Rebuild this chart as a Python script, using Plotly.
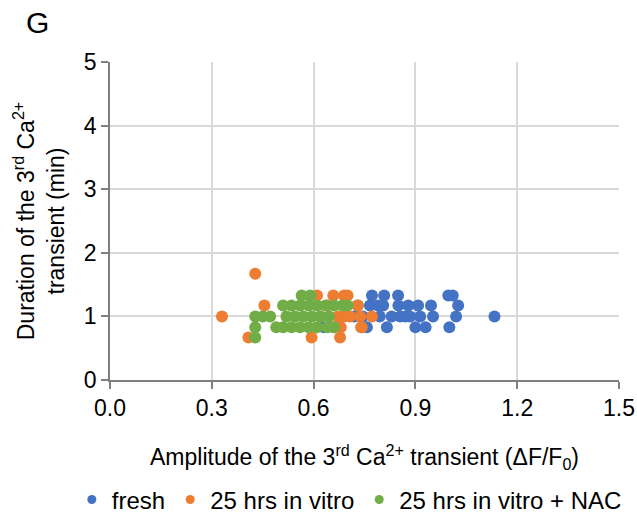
import plotly.graph_objects as go

# Amplitude (dF/F0) and duration (min) of the 3rd Ca2+ transient, per cell
fresh_amp = [0.772, 0.808, 0.849, 0.997, 1.01,
             0.73, 0.766, 0.79, 0.805, 0.85, 0.879, 0.908, 0.946, 1.026,
             0.72, 0.745, 0.795, 0.83, 0.855, 0.87, 0.884, 0.914, 0.952, 1.02, 1.133,
             0.63, 0.757, 0.816, 0.9, 0.93, 1.0]
fresh_dur = [1.33, 1.33, 1.33, 1.33, 1.33,
             1.17, 1.17, 1.17, 1.17, 1.17, 1.17, 1.17, 1.17, 1.17,
             1.0, 1.0, 1.0, 1.0, 1.0, 1.0, 1.0, 1.0, 1.0, 1.0, 1.0,
             0.83, 0.83, 0.83, 0.83, 0.83, 0.83]

vitro_amp = [0.428,
             0.61, 0.658, 0.69, 0.70,
             0.455, 0.64, 0.73,
             0.33, 0.62, 0.672, 0.69, 0.707, 0.737, 0.772,
             0.658, 0.68, 0.74, 0.742,
             0.408, 0.594, 0.678]
vitro_dur = [1.67,
             1.33, 1.33, 1.33, 1.33,
             1.17, 1.17, 1.17,
             1.0, 1.0, 1.0, 1.0, 1.0, 1.0, 1.0,
             0.83, 0.83, 0.83, 0.83,
             0.67, 0.67, 0.67]

nac_amp = [0.565, 0.59,
           0.51, 0.535, 0.56, 0.585, 0.61, 0.635, 0.66, 0.685, 0.70,
           0.428, 0.45, 0.472, 0.52, 0.545, 0.57, 0.595, 0.62, 0.645,
           0.428, 0.49, 0.51, 0.535, 0.56, 0.585, 0.61, 0.64, 0.66,
           0.428]
nac_dur = [1.33, 1.33,
           1.17, 1.17, 1.17, 1.17, 1.17, 1.17, 1.17, 1.17, 1.17,
           1.0, 1.0, 1.0, 1.0, 1.0, 1.0, 1.0, 1.0, 1.0,
           0.83, 0.83, 0.83, 0.83, 0.83, 0.83, 0.83, 0.83, 0.83,
           0.67]

series = [
    ("fresh", fresh_amp, fresh_dur, "#4472C4"),
    ("25 hrs in vitro", vitro_amp, vitro_dur, "#ED7D31"),
    ("25 hrs in vitro + NAC", nac_amp, nac_dur, "#70AD47"),
]

x_ticks = [0.0, 0.3, 0.6, 0.9, 1.2, 1.5]
y_ticks = [0, 1, 2, 3, 4, 5]

FONT = "Liberation Sans, Arial, sans-serif"
FS = 23

fig = go.Figure()
for name, xs, ys, color in series:
    fig.add_trace(go.Scatter(
        x=xs, y=ys, mode="markers", name=name, showlegend=False,
        marker=dict(size=12, color=color, line=dict(width=0)),
    ))
# small legend symbols
for name, xs, ys, color in series:
    fig.add_trace(go.Scatter(
        x=[None], y=[None], mode="markers", name=name,
        marker=dict(size=9, color=color),
    ))

axis_common = dict(
    showgrid=True, gridcolor="#d9d9d9", gridwidth=1.5,
    showline=True, linecolor="#7f7f7f", linewidth=1.5,
    ticks="outside", tickcolor="#7f7f7f", ticklen=7, tickwidth=1.5,
    zeroline=False, automargin=False,
    tickfont=dict(size=FS),
)

fig.update_layout(
    width=637, height=515,
    margin=dict(l=110, r=18, t=62, b=135, autoexpand=False),
    paper_bgcolor="white", plot_bgcolor="white",
    font=dict(family=FONT, size=FS, color="black"),
    showlegend=True,
    legend=dict(orientation="h", x=-0.075, xanchor="left", y=-0.377, yanchor="middle",
                font=dict(size=24), itemwidth=30, tracegroupgap=0,
                bgcolor="rgba(0,0,0,0)"),
    xaxis=dict(
        range=[0, 1.5], tickvals=x_ticks, ticktext=[f"{v:.1f}" for v in x_ticks],
        title=dict(text="Amplitude of the 3<sup>rd</sup> Ca<sup>2+</sup> transient (ΔF/F<sub>0</sub>)",
                   standoff=29, font=dict(size=FS)),
        **axis_common,
    ),
    yaxis=dict(
        range=[0, 5], tickvals=y_ticks,
        title=dict(text="Duration of the 3<sup>rd</sup> Ca<sup>2+</sup><br>transient (min)",
                   standoff=13, font=dict(size=FS)),
        **axis_common,
    ),
    annotations=[dict(text="G", x=(37 - 110) / 509, y=(380 - 23) / 318,
                      xref="paper", yref="paper", xanchor="center", yanchor="middle",
                      showarrow=False, font=dict(size=30))],
)

fig.write_html("out.html")
